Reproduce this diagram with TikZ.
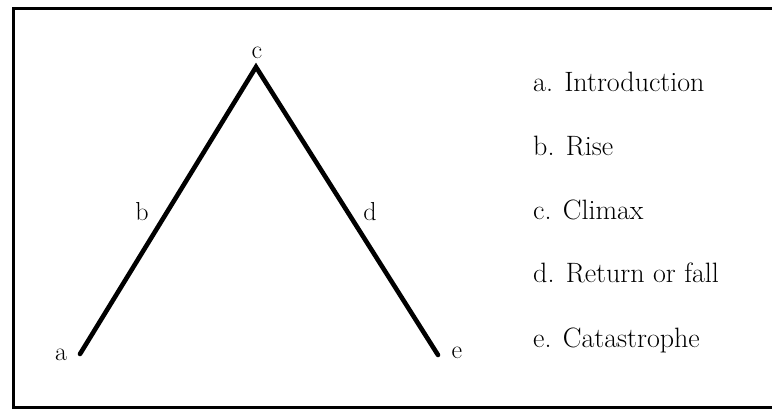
\documentclass[tikz,border=0pt]{standalone}
\usepackage{tikz}
\usetikzlibrary{positioning}
\tikzset{
	curve/.style={line width=4.6pt, line cap=round},
	point/.style={font=\fontsize{26}{30}\selectfont, inner sep=0pt, anchor=base},
	legend/.style={font=\fontsize{28}{33}\selectfont, inner sep=0pt, anchor=base west},
}

\begin{document}
\begin{tikzpicture}[x=1pt, y=-1pt]
	\useasboundingbox (0,0) rectangle (772,409);

	\draw[line width=3pt] (772,9) -- (13,9) -- (13,407) -- (772,407);

	\coordinate (A) at (80,354);
	\coordinate (C) at (256,67);
	\coordinate (E) at (438,355);
	\draw[curve] (A) -- (C) -- (E);

	\node[point] (la) at (61,360) {a};
	\node[point] (lb) at (142,221) {b};
	\node[point] (lc) at (257,59) {c};
	\node[point] (ld) at (370,221) {d};
	\node[point] (le) at (457,358) {e};

	\node[legend] (intro) at (533,92) {a. Introduction};
	\node[legend] (rise) at (533,156) {b. Rise};
	\node[legend] (climax) at (533,220) {c. Climax};
	\node[legend] (fall) at (533,283) {d. Return or fall};
	\node[legend] (cata) at (533,347) {e. Catastrophe};
\end{tikzpicture}
\end{document}
